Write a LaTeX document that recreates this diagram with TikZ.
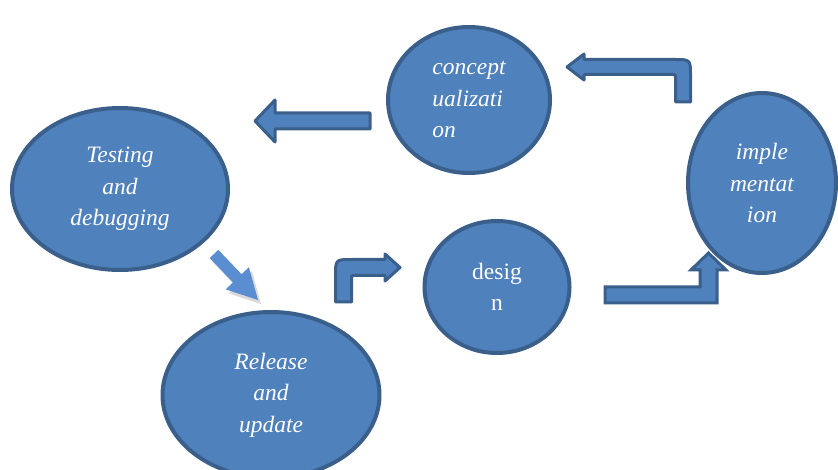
\documentclass[tikz,border=0pt]{standalone}
\usepackage{fontspec}
\setmainfont{Liberation Serif}
\usetikzlibrary{shapes.geometric}
\definecolor{phasefill}{HTML}{4F81BD}
\definecolor{phaseline}{HTML}{3A5F8B}
\definecolor{diagfill}{HTML}{5A8ED0}

\begin{document}
\begin{tikzpicture}[x=1pt,y=-1pt,
  phase/.style={ellipse,fill=phasefill,draw=phaseline,line width=4pt,text=white,
    font=\fontsize{23.5}{31.5}\selectfont\itshape,align=center,inner sep=0pt},
  barrow/.style={fill=phasefill,draw=phaseline,line width=3pt,line join=round}]
\useasboundingbox (0,0) rectangle (838,470);
\clip (0,0) rectangle (838,470);

% phases
\node[phase,minimum width=162pt,minimum height=146pt,align=left] (concept) at (469,100) {concept\\ualizati\\on};
\node[phase,minimum width=216pt,minimum height=162pt] (testing) at (120,189) {Testing\\and\\debugging};
\node[phase,minimum width=145pt,minimum height=132pt,font=\fontsize{23.5}{31.5}\selectfont\upshape] (design) at (497,287) {desig\\n};
\node[phase,minimum width=148pt,minimum height=180pt] (implement) at (762,183) {imple\\mentat\\ion};
\node[phase,minimum width=217pt,minimum height=166pt] (release) at (271,395) {Release\\and\\update};

% block arrows
\draw[barrow] (690.5,102) -- (690.5,76) .. controls (690.5,59.5) .. (674,59.5)
  -- (584,59.5) -- (584,54) -- (567,67) -- (584,80) -- (584,74.5) -- (673,74.5)
  .. controls (675.5,74.5) .. (675.5,77) -- (675.5,102) -- cycle;
\draw[barrow] (370,113) -- (275,113) -- (275,100) -- (255,121) -- (275,142) -- (275,129) -- (370,129) -- cycle;
\draw[barrow] (335.5,302) -- (335.5,276) .. controls (335.5,259.5) .. (352,259.5)
  -- (385,259.5) -- (385,254) -- (400,267.5) -- (385,281) -- (385,275.5) -- (354,275.5)
  .. controls (351.5,275.5) .. (351.5,278) -- (351.5,302) -- cycle;
\draw[barrow,line join=miter] (605,287) -- (700,287) -- (700,270) -- (691,270) -- (708.5,253) -- (726,270)
  -- (717,270) -- (717,303) -- (605,303) -- cycle;

% diagonal arrow with its shadow
\fill[black,opacity=0.15] (221.3,253.9) -- (212.7,262.1) -- (236,286.4) -- (228.7,293.4) -- (261,304)
  -- (251.9,271.2) -- (244.6,278.2) -- cycle;
\fill[diagfill] (218.3,249.9) -- (209.7,258.1) -- (233,282.4) -- (225.7,289.4) -- (258,300)
  -- (248.9,267.2) -- (241.6,274.2) -- cycle;
\end{tikzpicture}
\end{document}
